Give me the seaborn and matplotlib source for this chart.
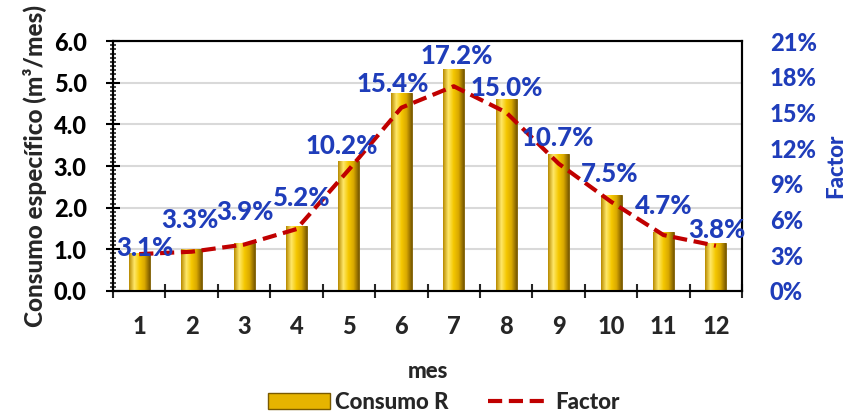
import numpy as np
import pandas as pd
import matplotlib
matplotlib.use("Agg")
import matplotlib.pyplot as plt
from matplotlib.patches import Rectangle
from matplotlib.lines import Line2D
from matplotlib.colors import LinearSegmentedColormap
import seaborn as sns

# ---- data ----
meses = ["1", "2", "3", "4", "5", "6", "7", "8", "9", "10", "11", "12"]
consumo_r = [0.91, 1.01, 1.16, 1.57, 3.13, 4.76, 5.32, 4.62, 3.30, 2.30, 1.42, 1.14]
factor = [3.1, 3.3, 3.9, 5.2, 10.2, 15.4, 17.2, 15.0, 10.7, 7.5, 4.7, 3.8]
left_ticks = [0.0, 1.0, 2.0, 3.0, 4.0, 5.0, 6.0]
right_ticks = [0, 3, 6, 9, 12, 15, 18, 21]

df = pd.DataFrame({"mes": meses, "consumo": consumo_r, "factor": factor})

sns.set_theme(style="white")
plt.rcParams["font.family"] = ["Lato", "DejaVu Sans"]
W = 900

BLUE = "#1F3DBA"
RED = "#C00000"
GOLD = "#E6B400"

fig = plt.figure(figsize=(8.53, 4.16), dpi=100)
ax = fig.add_axes([0.1325, 0.3005, 0.7375, 0.6009])

sns.barplot(data=df, x="mes", y="consumo", ax=ax, color=GOLD, width=0.4,
            edgecolor="#7A5A00", linewidth=0.6, zorder=3)

cmap = LinearSegmentedColormap.from_list(
    "gold", ["#B88A00", "#FFE86A", "#F5C800", "#D9A800", "#7A5A00"])
grad = np.linspace(0, 1, 64).reshape(1, -1)
for p in ax.patches:
    x0, w, h = p.get_x(), p.get_width(), p.get_height()
    im = ax.imshow(grad, cmap=cmap, aspect="auto",
                   extent=[x0, x0 + w, 0, h], zorder=3.5)
    im.set_clip_path(p)

ax.set_xlim(-0.5, len(meses) - 0.5)
ax.set_ylim(0, 6)
ax.set_yticks(left_ticks)
ax.set_yticklabels([f"{v:.1f}" for v in left_ticks])
ax.set_yticks(np.arange(0, 6.01, 0.1), minor=True)
ax.set_xticks(np.arange(-0.5, len(meses), 1), minor=True)
ax.grid(axis="y", which="major", color="#D9D9D9", linewidth=1.5, zorder=0)
ax.grid(axis="x", visible=False)
ax.set_axisbelow(True)

ax.tick_params(axis="y", which="major", direction="inout", length=10, width=1.5,
               labelsize=17, colors="black", pad=14, left=True)
ax.tick_params(axis="y", which="minor", direction="inout", length=5, width=1.2, left=True)
ax.tick_params(axis="x", which="major", length=0, labelsize=17, pad=17)
ax.tick_params(axis="x", which="minor", direction="inout", length=10, width=1.5, bottom=True)
for lab in ax.get_xticklabels() + ax.get_yticklabels():
    lab.set_fontweight(W)

for s in ax.spines.values():
    s.set_visible(True)
    s.set_color("black")
    s.set_linewidth(1.5)

ax.set_xlabel("mes", fontsize=16, fontweight=W, labelpad=17)
ax.set_ylabel("Consumo específico (m³/mes)", fontsize=17.5, fontweight=W, labelpad=5)

ax2 = ax.twinx()
sns.pointplot(data=df, x="mes", y="factor", ax=ax2, color=RED, markers="",
              linestyles="--", errorbar=None)
for ln in ax2.lines:
    ln.set_linewidth(3)
    ln.set_dashes((3.4, 1.6))
ax2.set_xlim(-0.5, len(meses) - 0.5)
ax2.set_ylim(0, 21)
ax2.set_yticks(right_ticks)
ax2.set_yticklabels([f"{v}%" for v in right_ticks])
ax2.tick_params(axis="y", length=0, labelsize=17, labelcolor=BLUE, pad=20)
for lab in ax2.get_yticklabels():
    lab.set_fontweight(W)
ax2.set_ylabel("Factor", fontsize=16, fontweight=W, color=BLUE, labelpad=6)
ax2.grid(False)
for s in ax2.spines.values():
    s.set_visible(True)
    s.set_color("black")
    s.set_linewidth(1.5)

label_offsets = [(5, 6), (-2, 30), (1, 31), (5, 30), (-7, 23), (-8, 23),
                 (3, 29), (1, 23), (-1, 25), (-1, 27), (0, 28), (1, 15)]
for i, (v, off) in enumerate(zip(factor, label_offsets)):
    ax2.annotate(f"{v:.1f}%", (i, v), xytext=(off[0] * 0.75, off[1] * 0.75),
                 textcoords="offset points", ha="center", va="center",
                 fontsize=18.5, fontweight=W, color=BLUE, zorder=10)

handles = [Rectangle((0, 0), 1, 1, facecolor=GOLD, edgecolor="#7A5A00"),
           Line2D([0], [0], color=RED, lw=3, linestyle=(0, (3.4, 1.6)))]
fig.legend(handles, ["Consumo R", "Factor"], loc="center",
           bbox_to_anchor=(0.52, 0.033), ncol=2, frameon=False,
           prop={"size": 16, "weight": W}, handlelength=2.8,
           columnspacing=1.8, handletextpad=0.2)

fig.savefig("out.png", dpi=100)
